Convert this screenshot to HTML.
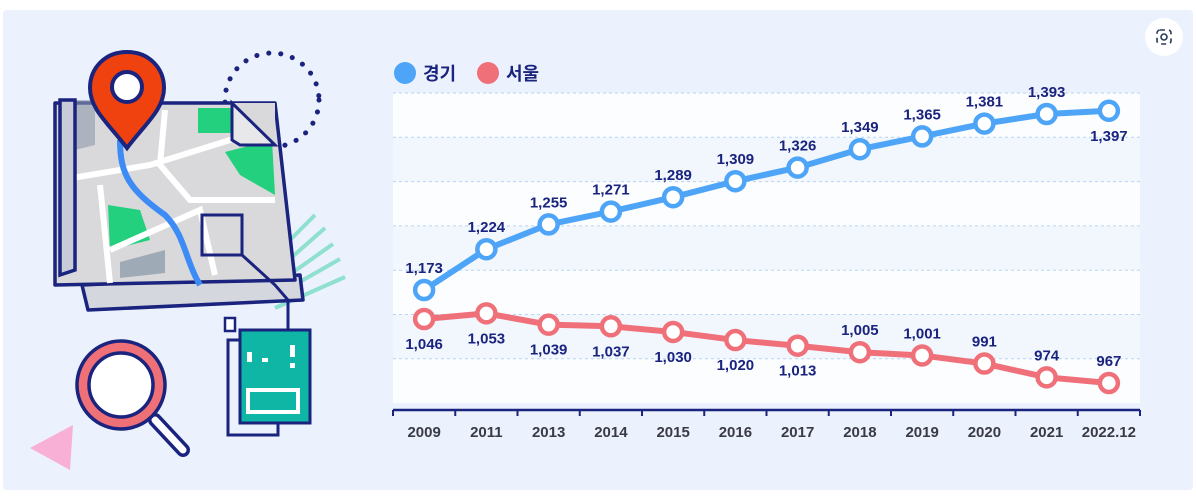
<!DOCTYPE html>
<html><head><meta charset="utf-8"><style>
html,body{margin:0;padding:0;background:#fff;}
body{width:1196px;height:498px;overflow:hidden;position:relative;font-family:"Liberation Sans","Noto Sans CJK KR",sans-serif;}
#panel{position:absolute;left:3px;top:10px;width:1190px;height:480px;background:#ebf2fd;border-radius:4px;}
svg{position:absolute;left:0;top:0;}
</style></head><body>
<div id="panel"></div>
<svg width="1196" height="498" id="chart">
  <g>
    <circle cx="272" cy="100" r="47" fill="none" stroke="#1a237e" stroke-width="5" stroke-dasharray="0.1 12" stroke-linecap="round"/>
    <g stroke="#8fe0cf" stroke-width="4">
      <line x1="270" y1="260" x2="315" y2="215"/><line x1="275" y1="272" x2="325" y2="228"/>
      <line x1="275" y1="285" x2="333" y2="244"/><line x1="275" y1="296" x2="340" y2="259"/>
      <line x1="275" y1="308" x2="345" y2="277"/>
    </g>
    <path d="M82 285 L300 275 L303 300 L88 310 Z" fill="#d4d7dd" stroke="#1a237e" stroke-width="3.5" stroke-linejoin="round"/>
    <path d="M55 103 L275 103 L295 280 L55 285 Z" fill="#d9d9db" stroke="#1a237e" stroke-width="3.5" stroke-linejoin="round"/>
    <path d="M198 108 L232 108 L232 133 L198 133 Z" fill="#22d07d"/>
    <path d="M225 152 L272 140 L275 195 L240 175 Z" fill="#22d07d"/>
    <path d="M108 205 L140 210 L150 240 L110 250 Z" fill="#22d07d"/>
    <path d="M120 262 L165 250 L165 273 L120 278 Z" fill="#9eabb7"/>
    <path d="M70 100 L95 100 L95 145 L75 150 Z" fill="#8f9aaa" opacity=".6"/>
    <g stroke="#fff" stroke-width="6" fill="none">
      <path d="M60 180 L150 165 L230 140 L275 130"/>
      <path d="M165 110 L160 165 L190 200 L275 200"/>
      <path d="M100 185 L110 283"/>
      <path d="M110 250 L200 210 L215 275"/>
    </g>
    <path d="M120 140 C120 175 130 190 165 215 C185 235 185 260 200 285" stroke="#3d8bf5" stroke-width="6" fill="none"/>
    <path d="M60 100 L75 100 L75 270 L60 275 Z" fill="#c8ccd8" stroke="#1a237e" stroke-width="3.5"/>
    <path d="M232 103 L275 103 L275 145 L240 145 Z" fill="#d9d9db"/>
    <path d="M232 103 L275 145 L240 145 L232 140 Z" fill="#e8e8ea" stroke="#1a237e" stroke-width="3"/>
    <rect x="202" y="215" width="40" height="40" fill="none" stroke="#1a237e" stroke-width="3"/>
    <path d="M242 255 L275 285 L288 300 L288 332" stroke="#1a237e" stroke-width="3" fill="none"/>
    <path d="M127 52 C105 52 90 68 90 88 C90 110 110 125 127 148 C144 125 164 110 164 88 C164 68 149 52 127 52 Z" fill="#f0420e" stroke="#1a237e" stroke-width="4"/>
    <circle cx="127" cy="87" r="15" fill="#fff" stroke="#1a237e" stroke-width="4"/>
    <rect x="228" y="340" width="50" height="95" fill="none" stroke="#1a237e" stroke-width="3"/>
    <rect x="240" y="330" width="70" height="93" fill="#0fb6a5" stroke="#1a237e" stroke-width="3"/>
    <rect x="248" y="390" width="50" height="22" fill="none" stroke="#fff" stroke-width="4"/>
    <rect x="225" y="318" width="10" height="13" fill="#fff" stroke="#1a237e" stroke-width="2.5"/>
    <g fill="#fff"><rect x="247" y="352" width="5" height="10"/><rect x="262" y="358" width="6" height="4"/><rect x="290" y="345" width="5" height="12"/><rect x="290" y="363" width="5" height="5"/></g>
    <line x1="183" y1="450" x2="155" y2="420" stroke="#1a237e" stroke-width="14" stroke-linecap="round"/>
    <line x1="183" y1="450" x2="155" y2="420" stroke="#fff" stroke-width="7" stroke-linecap="round"/>
    <circle cx="121" cy="385" r="44" fill="#f07077" stroke="#1a237e" stroke-width="3.5"/>
    <circle cx="121" cy="385" r="32" fill="#fff" stroke="#1a237e" stroke-width="3.5"/>
    <path d="M30 448 L73 425 L70 470 Z" fill="#f9b0d6"/>
  </g>
  <g>
    <circle cx="1164" cy="37" r="19" fill="#fff"/>
    <rect x="1157" y="30" width="14" height="14" rx="3" fill="none" stroke="#2a3a5a" stroke-width="1.6" stroke-dasharray="5 4"/>
    <circle cx="1164" cy="37" r="3" fill="none" stroke="#2a3a5a" stroke-width="1.6"/>
  </g>
  <g>
    <circle cx="405" cy="73" r="11" fill="#4ea5f7"/>
    <text x="423" y="80" font-size="18" font-weight="bold" fill="#1a237e">경기</text>
    <circle cx="488" cy="73" r="11" fill="#f0707a"/>
    <text x="506" y="80" font-size="18" font-weight="bold" fill="#1a237e">서울</text>
  </g>
  <g id="bands"></g><g id="grid"></g><g id="axis"></g><g id="series"></g>
</svg>
<script>
const categories=["2009","2011","2013","2014","2015","2016","2017","2018","2019","2020","2021","2022.12"];
const gyeonggi=[1173,1224,1255,1271,1289,1309,1326,1349,1365,1381,1393,1397];
const seoul=[1046,1053,1039,1037,1030,1020,1013,1005,1001,991,974,967];
const NS="http://www.w3.org/2000/svg";
function mk(t,a,p){const e=document.createElementNS(NS,t);for(const k in a)e.setAttribute(k,a[k]);p.appendChild(e);return e;}
const x0=393,x1=1140,step=(x1-x0)/categories.length;
function xs(i){return x0+step*(i+0.5);}
function yG(v){return 290-(v-1173)*0.8;}
function yS(v){return 319+(1046-v)*0.81;}
const bands=document.getElementById('bands'),grid=document.getElementById('grid'),axis=document.getElementById('axis'),series=document.getElementById('series');
for(let k=0;k<7;k++){const y=93+k*44.3;
  const b=mk('rect',{x:x0,y:y,width:x1-x0,height:44.3,fill:k%2?'#f2f7fe':'#fbfdff'},bands);
  
  const g=mk('line',{x1:x0,x2:x1,y1:y,y2:y,stroke:'#b9d3f2','stroke-dasharray':'3 3'},grid);
  }
const ax=mk('line',{x1:x0,x2:x1,y1:410,y2:410,stroke:'#1a237e','stroke-width':2.5},axis);

for(let i=0;i<=categories.length;i++){const t=mk('line',{x1:x0+i*step,x2:x0+i*step,y1:410,y2:416,stroke:'#1a237e','stroke-width':2},axis);
  }
categories.forEach((c,i)=>{const t=mk('text',{x:xs(i),y:437,'text-anchor':'middle','font-size':15,'font-weight':'bold',fill:'#3a3a44'},axis);t.textContent=c;
  });
function draw(vals,yf,color,name,labelPos){
  const pl=mk('polyline',{points:vals.map((v,i)=>xs(i)+','+yf(v)).join(' '),fill:'none',stroke:color,'stroke-width':6,'stroke-linejoin':'round'},series);
  
  vals.forEach((v,i)=>{const c=mk('circle',{cx:xs(i),cy:yf(v),r:9,fill:'#fff',stroke:color,'stroke-width':4.5},series);
    
    const below=labelPos(i);
    const t=mk('text',{x:xs(i),y:below?yf(v)+30:yf(v)-17,'text-anchor':'middle','font-size':15,'font-weight':'bold',fill:'#1a237e'},series);
    t.textContent=v.toLocaleString('en-US');
    });
}
draw(gyeonggi,yG,'#4ea5f7','gyeonggi',i=>i===gyeonggi.length-1);
draw(seoul,yS,'#f0707a','seoul',i=>i<7||i===gyeonggi.length+5);
</script>
</body></html>
